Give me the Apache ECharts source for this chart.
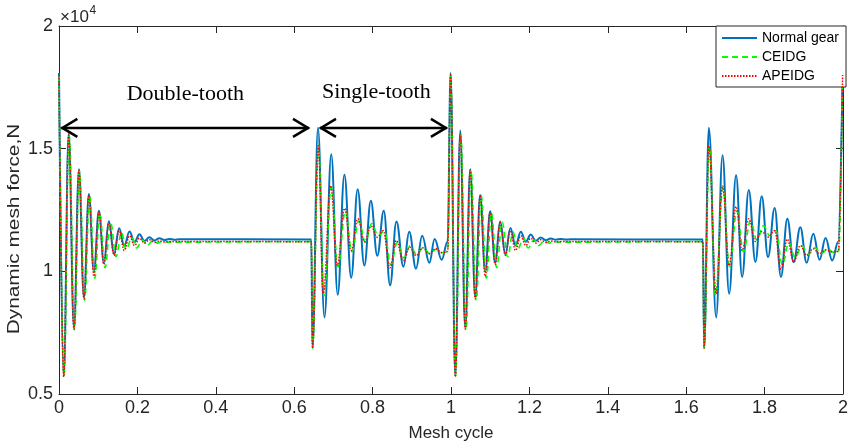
<!DOCTYPE html>
<html><head><meta charset="utf-8">
<script src="https://cdn.jsdelivr.net/npm/echarts@6/dist/echarts.min.js"></script>
<style>html,body{margin:0;padding:0;background:#fff}#c{width:851px;height:447px}</style>
</head><body><div id="c"></div>
<script>
// ---- tick labels ----
const xTickValues = [0,0.2,0.4,0.6,0.8,1,1.2,1.4,1.6,1.8,2];
const xTickLabels = ['0','0.2','0.4','0.6','0.8','1','1.2','1.4','1.6','1.8','2'];
const yTickValues = [5000,10000,15000,20000];
const yTickLabels = ['0.5','1','1.5','2'];
const seriesNames = ['Normal gear','CEIDG','APEIDG'];

// ---- Normal gear (peaks / troughs) [mesh cycle, N] ----
const normalGear = [
[0,18080],[0.012,5720],[0.0247,15620],[0.0382,7680],[0.0509,14160],[0.0636,8930],[0.0763,13150],[0.0890,9990],
[0.1018,12470],[0.1145,10350],[0.1272,12040],[0.1404,10700],[0.1534,11760],[0.1664,11040],[0.1799,11620],[0.1926,11200],
[0.2053,11510],[0.2180,11240],[0.2307,11390],[0.2435,11260],[0.2562,11350],[0.2689,11280],[0.2816,11320],[0.2943,11290],
[0.3070,11310],[0.6436,11300],[0.6467,6870],[0.6606,15850],[0.6772,8120],[0.6945,14770],[0.7110,9050],[0.7281,13940],
[0.7454,9740],[0.7619,13350],[0.7789,10240],[0.7955,12880],[0.8120,10640],[0.8285,12470],[0.8446,9430],[0.8608,12030],
[0.8787,10190],[0.8934,11610],[0.9107,10110],[0.9265,11450],[0.9448,10350],[0.9583,11320],[0.9761,10470],[0.9914,11220],
[0.9990,18080],
[1.0109,5730],[1.0236,15740],[1.0364,7700],[1.0491,14160],[1.0618,8960],[1.0745,13110],[1.0873,9990],[1.1000,12450],
[1.1127,10350],[1.1254,12030],[1.1386,10700],[1.1516,11770],[1.1646,11050],[1.1781,11610],[1.1908,11210],[1.2035,11500],
[1.2162,11250],[1.2289,11380],[1.2417,11270],[1.2544,11340],[1.2671,11290],[1.2798,11320],[1.2925,11295],[1.3052,11305],
[1.6426,11300],[1.6457,6870],[1.6578,15850],[1.6764,8120],[1.6927,14730],[1.7095,9090],[1.7273,13920],[1.7426,9770],
[1.7596,13320],[1.7766,10380],[1.7927,13060],[1.8087,10580],[1.8257,12580],[1.8417,9770],[1.8580,12140],[1.8741,10380],
[1.8911,11800],[1.9072,10350],[1.9242,11530],[1.9402,10470],[1.9555,11360],[1.9725,10440],[1.9878,11210],[1.9990,18000]
];

// ---- CEIDG ----
const ceidg = [
[0,17950],[0.0127,5750],[0.0259,15560],[0.0394,7620],[0.0521,14100],[0.0654,8820],[0.0781,13080],[0.0913,9720],
[0.1040,12380],[0.1175,10150],[0.1315,12000],[0.1455,10600],[0.1595,11600],[0.1709,10900],[0.1862,11360],[0.1977,10950],
[0.2129,11280],[0.2244,11050],[0.2396,11250],[0.2511,11150],[0.2640,11220],[0.2750,11190],[0.6436,11210],[0.6467,6870],
[0.6619,15100],[0.6759,9010],[0.6945,13430],[0.7115,10190],[0.7306,12460],[0.7471,10800],[0.7649,12050],[0.7815,11200],
[0.7980,11950],[0.8145,11450],[0.8298,11650],[0.8463,10270],[0.8629,11160],[0.8794,10550],[0.8960,11040],[0.9125,10680],
[0.9290,10960],[0.9456,10720],[0.9621,10900],[0.9786,10760],[0.9914,10800],[0.9990,17950],
[1.0117,5750],[1.0249,15560],[1.0384,7620],[1.0511,14100],[1.0644,8820],[1.0771,13080],[1.0903,9720],[1.1030,12380],
[1.1165,10150],[1.1305,12000],[1.1445,10600],[1.1585,11600],[1.1699,10900],[1.1852,11360],[1.1967,10950],[1.2119,11280],
[1.2234,11050],[1.2386,11250],[1.2501,11150],[1.2630,11220],[1.2740,11190],[1.6426,11210],[1.6457,6870],[1.6590,15100],
[1.6750,9010],[1.6935,13430],[1.7105,10190],[1.7296,12460],[1.7461,10800],[1.7639,12050],[1.7805,11280],[1.7970,11860],
[1.8135,11450],[1.8288,11650],[1.8453,10270],[1.8619,11160],[1.8784,10550],[1.8950,11040],[1.9115,10680],[1.9280,10960],
[1.9446,10720],[1.9611,10900],[1.9776,10760],[1.9890,10800],[1.9990,17950]
];

// ---- APEIDG ----
const apeidg = [
[0,18000],[0.012,5700],[0.0247,15560],[0.0382,7640],[0.0509,14120],[0.0636,8880],[0.0763,13100],[0.0890,9800],
[0.1018,12420],[0.1145,10280],[0.1272,11980],[0.1404,10650],[0.1534,11660],[0.1664,10850],[0.1799,11450],[0.1926,11050],
[0.2053,11350],[0.2180,11150],[0.2307,11290],[0.2435,11180],[0.2562,11240],[0.2689,11200],[0.2816,11220],[0.6436,11210],
[0.6467,6870],[0.6614,15110],[0.6741,9090],[0.6930,13490],[0.7097,10240],[0.7286,12570],[0.7454,10850],[0.7624,12140],
[0.7795,11200],[0.7962,11840],[0.8120,11390],[0.8273,11660],[0.8440,10140],[0.8608,11260],[0.8781,10430],[0.8947,10980],
[0.9112,10640],[0.9278,10960],[0.9443,10720],[0.9608,10920],[0.9774,10760],[0.9914,10810],[0.9990,18000],
[1.0109,5700],[1.0236,15560],[1.0364,7640],[1.0491,14120],[1.0618,8880],[1.0745,13100],[1.0873,9800],[1.1000,12420],
[1.1127,10280],[1.1254,11980],[1.1386,10650],[1.1516,11660],[1.1646,10850],[1.1781,11450],[1.1908,11050],[1.2035,11350],
[1.2162,11150],[1.2289,11290],[1.2417,11180],[1.2544,11240],[1.2671,11200],[1.2798,11220],[1.6426,11210],[1.6457,6870],
[1.6578,15110],[1.6764,9090],[1.6927,13490],[1.7095,10240],[1.7273,12640],[1.7426,10850],[1.7596,12140],[1.7766,11220],
[1.7927,11620],[1.8087,11400],[1.8257,11660],[1.8417,10090],[1.8580,11310],[1.8741,10380],[1.8911,11050],[1.9072,10650],
[1.9242,10920],[1.9402,10720],[1.9555,10880],[1.9725,10800],[1.9878,10810],[1.9990,18000]
];

// ---- annotations (data coordinates) ----
const annoTexts = [
  {text:'Double-tooth', x:0.3223, y:17200},
  {text:'Single-tooth', x:0.8095, y:17320}
];
const annoArrows = [
  {x0:0.006, x1:0.6378, y:15845},
  {x0:0.6657, x1:0.9896, y:15845}
];

const axisColor = '#262626';
const tickFont = "'Liberation Sans',Arial,Helvetica,sans-serif";
const chart = echarts.init(document.getElementById('c'), null, {renderer:'canvas'});

function xAxisCfg(pos, showLabel){
  return {type:'value', position:pos, min:0, max:2, interval:0.2,
    axisLine:{show:true, onZero:false, lineStyle:{color:axisColor, width:1}},
    axisTick:{show:true, inside:true, length:7, lineStyle:{color:axisColor, width:1}},
    axisLabel:{show:showLabel, margin:5, color:axisColor, fontSize:18, fontFamily:tickFont,
      formatter:v=>{const i=xTickValues.findIndex(t=>Math.abs(t-v)<1e-6); return i>=0?xTickLabels[i]:'';}},
    splitLine:{show:false},
    name: showLabel ? 'Mesh cycle' : '', nameLocation:'middle', nameGap:31,
    nameTextStyle:{color:axisColor, fontSize:17, fontFamily:tickFont}
  };
}
function yAxisCfg(pos, showLabel){
  return {type:'value', position:pos, min:5000, max:20000, interval:5000,
    axisLine:{show:true, onZero:false, lineStyle:{color:axisColor, width:1}},
    axisTick:{show:true, inside:true, length:7, lineStyle:{color:axisColor, width:1}},
    axisLabel:{show:showLabel, margin:6, color:axisColor, fontSize:18, fontFamily:tickFont,
      formatter:v=>{const i=yTickValues.findIndex(t=>Math.abs(t-v)<1e-6); return i>=0?yTickLabels[i]:'';}},
    splitLine:{show:false}
  };
}

const lineCommon = {type:'line', showSymbol:false, symbol:'none', smooth:0.4, smoothMonotone:'x', clip:true, animation:false};

chart.setOption({
  animation:false,
  backgroundColor:'#fff',
  grid:{left:59, right:6, top:26, bottom:51, containLabel:false},
  legend:{
    left:716, top:26, orient:'vertical', backgroundColor:'#fff',
    borderColor:axisColor, borderWidth:1, borderRadius:0, padding:[5,7,4,5],
    itemWidth:35, itemHeight:14, itemGap:5,
    itemStyle:{opacity:0},
    textStyle:{color:'#000', fontSize:14, fontFamily:"'Liberation Sans',Arial,sans-serif"},
    data:seriesNames
  },
  xAxis:[xAxisCfg('bottom', true), xAxisCfg('top', false)],
  yAxis:[yAxisCfg('left', true), yAxisCfg('right', false)],
  series:[
    Object.assign({}, lineCommon, {name:seriesNames[0], data:normalGear, z:2,
      lineStyle:{color:'#0072BD', width:2, type:'solid'}, itemStyle:{color:'#0072BD'}}),
    Object.assign({}, lineCommon, {name:seriesNames[1], data:ceidg, z:3,
      lineStyle:{color:'#00FF00', width:1.6, type:[6,4]}, itemStyle:{color:'#00FF00'}}),
    Object.assign({}, lineCommon, {name:seriesNames[2], data:apeidg, z:4,
      lineStyle:{color:'#FF0000', width:1.5, type:[1.5,1.5]}, itemStyle:{color:'#FF0000'}})
  ]
});

// ---- graphic overlays: axis name, exponent, annotations ----
const g = [];
g.push({type:'text', x:15, y:229, rotation:Math.PI/2, scaleX:1.3, z:10,
  style:{text:'Dynamic mesh force,N', font:"16px 'Liberation Sans',Arial,sans-serif", fill:axisColor, align:'center', verticalAlign:'middle'}});
g.push({type:'text', x:60, y:17.5, z:10,
  style:{text:'\u00d710', font:"17px "+tickFont, fill:axisColor, align:'left', verticalAlign:'middle'}});
g.push({type:'text', x:89.5, y:10.5, z:10,
  style:{text:'4', font:"12px "+tickFont, fill:axisColor, align:'left', verticalAlign:'middle'}});
annoTexts.forEach(a=>{
  const p = chart.convertToPixel({xAxisIndex:0, yAxisIndex:0}, [a.x, a.y]);
  g.push({type:'text', x:p[0], y:p[1], z:10,
    style:{text:a.text, font:"22px 'Liberation Serif','Times New Roman',serif", fill:'#000', align:'center', verticalAlign:'middle'}});
});
annoArrows.forEach(a=>{
  const p0 = chart.convertToPixel({xAxisIndex:0, yAxisIndex:0}, [a.x0, a.y]);
  const p1 = chart.convertToPixel({xAxisIndex:0, yAxisIndex:0}, [a.x1, a.y]);
  const st = {stroke:'#000', lineWidth:2.5, fill:null, lineJoin:'miter'};
  g.push({type:'line', z:10, shape:{x1:p0[0], y1:p0[1], x2:p1[0], y2:p1[1]}, style:st});
  g.push({type:'polyline', z:10, shape:{points:[[p0[0]+16,p0[1]-9],[p0[0]+1,p0[1]],[p0[0]+16,p0[1]+9]]}, style:st});
  g.push({type:'polyline', z:10, shape:{points:[[p1[0]-16,p1[1]-9],[p1[0]-1,p1[1]],[p1[0]-16,p1[1]+9]]}, style:st});
});
chart.setOption({graphic:g});
</script>
</body></html>
